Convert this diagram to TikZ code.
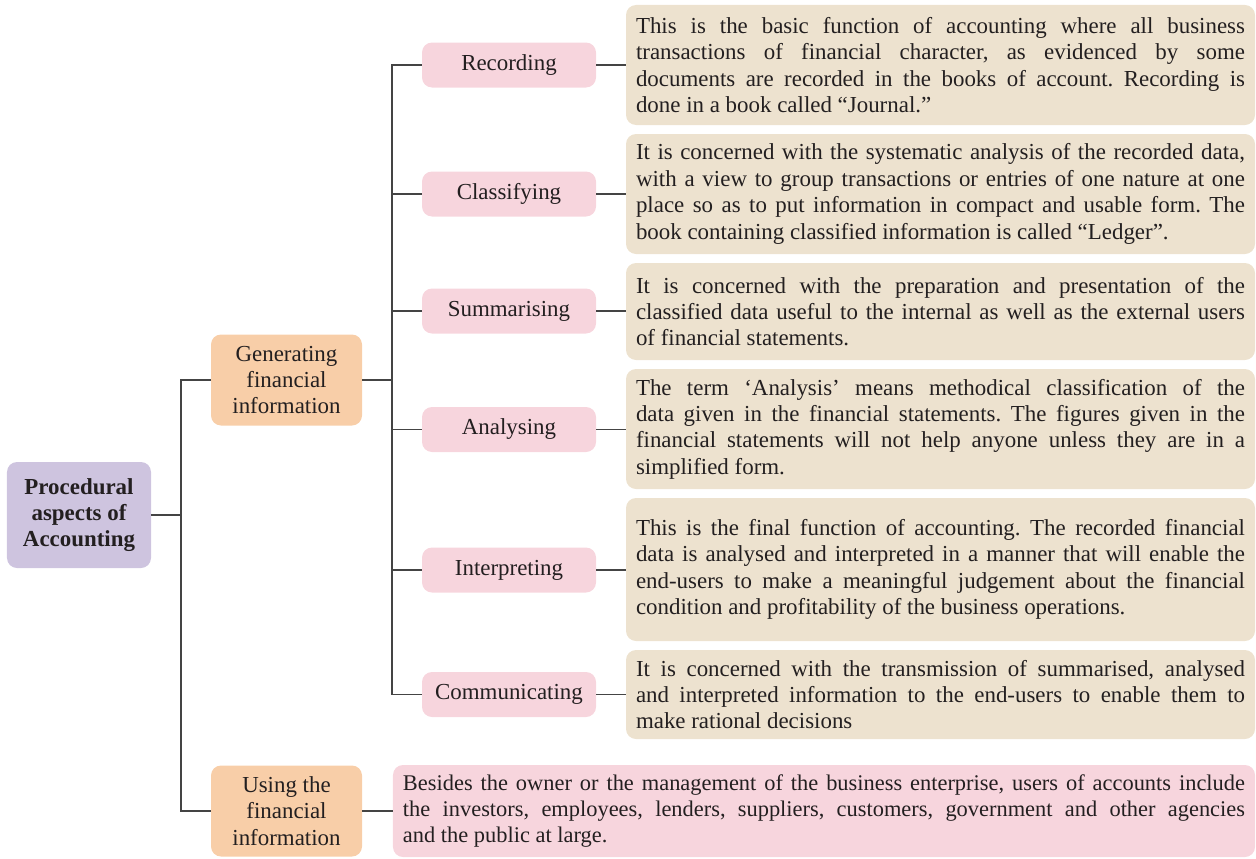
\documentclass[tikz,border=0pt]{standalone}
\usepackage{fontspec}
\setmainfont{Liberation Serif}
\definecolor{lav}{HTML}{CEC4DF}
\definecolor{peach}{HTML}{F8CEA8}
\definecolor{pinkb}{HTML}{F7D5DD}
\definecolor{beige}{HTML}{EDE2CF}
\definecolor{lin}{HTML}{444444}
\definecolor{txt}{HTML}{231F20}
\hyphenpenalty=10000\relax
\exhyphenpenalty=10000\relax
\frenchspacing
\tikzset{
  box/.style={rounded corners=10bp, inner sep=0pt, align=center, text=txt,
    font=\fontsize{23}{26.5}\selectfont},
  rootbox/.style={box, fill=lav, minimum width=144bp, minimum height=106bp, font=\fontsize{23}{26.5}\selectfont\bfseries},
  lvone/.style={box, fill=peach, minimum width=151bp, minimum height=91bp},
  lvtwo/.style={box, fill=pinkb, minimum width=174bp, minimum height=45bp},
  desc/.style={box, fill=beige, inner xsep=10bp, text width=609bp, align=justify},
  usedesc/.style={box, fill=pinkb, inner xsep=10bp, text width=842bp, align=justify, minimum height=92bp, font=\fontsize{22.5}{26.5}\selectfont},
  conn/.style={draw=lin, line width=1.3bp}
}
\begin{document}
\begin{tikzpicture}[x=1bp,y=-1bp]
\useasboundingbox (0,0) rectangle (1256,859);

\node[rootbox] (root) at (79,515) {Procedural\\aspects of\\Accounting};
\node[lvone] (gen) at (286.5,380) {Generating\\financial\\information};
\node[lvone] (use) at (286.5,811) {Using the\\financial\\information};

\node[lvtwo] (rec) at (509,65) {Recording};
\node[lvtwo] (cla) at (509,194) {Classifying};
\node[lvtwo] (sum) at (509,311) {Summarising};
\node[lvtwo] (ana) at (509,429.5) {Analysing};
\node[lvtwo] (int) at (509,570) {Interpreting};
\node[lvtwo] (com) at (509,694.5) {Communicating};

\node[desc, minimum height=120bp] (drec) at (940.5,65) {This is the basic function of accounting where all business\linebreak transactions of financial character, as evidenced by some\linebreak documents  are recorded in the books of account. Recording is\linebreak done in a book called “Journal.”};
\node[desc, minimum height=120bp] (dcla) at (940.5,194) {It is concerned with the systematic analysis of the recorded data,\linebreak with a view to group transactions or entries of one nature at one\linebreak place so as to put information in compact and usable form. The\linebreak book containing classified information is called “Ledger”.};
\node[desc, minimum height=97bp] (dsum) at (940.5,311.5) {It is concerned with the preparation and presentation of the\linebreak classified data useful to the internal as well as the external users\linebreak of financial statements.};
\node[desc, minimum height=120bp] (dana) at (940.5,429) {The term ‘Analysis’ means methodical classification of the\linebreak data given in the financial statements. The figures given in the\linebreak financial statements will not help anyone unless they are in a\linebreak simplified form.};
\node[desc, minimum height=143bp] (dint) at (940.5,569.5) {This is the final function of accounting. The recorded financial\linebreak data is analysed and interpreted in a manner that will enable the\linebreak end-users to make a meaningful judgement about the financial\linebreak condition and profitability of the business operations.};
\node[desc, minimum height=89bp] (dcom) at (940.5,694.5) {It is concerned with the transmission of summarised, analysed\linebreak and interpreted information to the end-users to enable them to\linebreak make rational decisions};

\node[usedesc] (duse) at (824,811) {Besides the owner or the management of the business enterprise, users of accounts include\linebreak the investors, employees, lenders, suppliers, customers, government and other agencies\linebreak and the public at large.};

\coordinate (j1) at (181,515);
\coordinate (j2) at (392,380);
\draw[conn] (root.east) -- (j1);
\draw[conn] (j1) |- (gen.west);
\draw[conn] (j1) |- (use.west);
\draw[conn] (gen.east) -- (j2);
\foreach \n in {rec,cla,sum,ana,int,com}{
  \draw[conn] (j2) |- (\n.west);
}
\foreach \a/\b in {rec/drec,cla/dcla,sum/dsum,ana/dana,int/dint,com/dcom,use/duse}{
  \draw[conn] (\a.east) -- (\a.east -| \b.west);
}
\end{tikzpicture}
\end{document}
